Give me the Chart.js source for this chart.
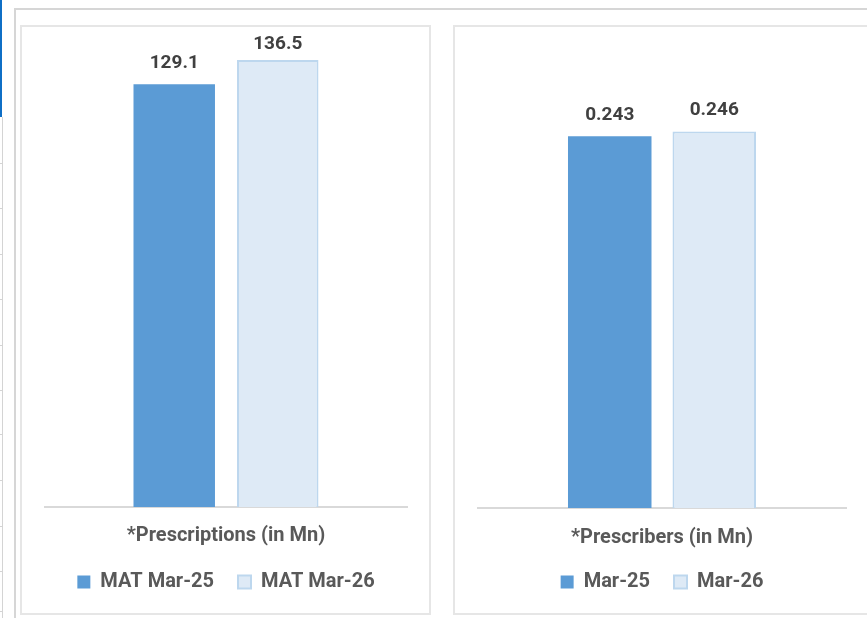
<!DOCTYPE html>
<html><head><meta charset="utf-8">
<script src="https://cdn.jsdelivr.net/npm/chart.js@4.4.0/dist/chart.umd.min.js"></script>
<style>
html,body{margin:0;padding:0;width:867px;height:618px;overflow:hidden;background:#fff;position:relative;}
.blue{position:absolute;left:0;top:0;width:2px;height:117px;background:#0f6fc6;}
.vline{position:absolute;left:2px;top:117px;width:1px;height:501px;background:#d4d4d4;}
.tick{position:absolute;left:0;width:3px;height:1px;background:#d4d4d4;}
.frame{position:absolute;left:14px;top:8px;width:900px;height:700px;border-left:2px solid #d6d6d6;border-top:2px solid #d6d6d6;}
.panel{position:absolute;border:2px solid #e6e6e6;overflow:hidden;background:#fff;}
#p1{left:20px;top:25px;width:407px;height:586px;}
#p2{left:453px;top:25px;width:440px;height:586px;}
canvas{display:block;}
</style></head>
<body>
<div class="blue"></div><div class="vline"></div>
<div id="ticks"></div>
<div class="frame"></div>
<div class="panel" id="p1"><canvas id="c1" width="407" height="586"></canvas></div>
<div class="panel" id="p2"><canvas id="c2" width="420" height="586"></canvas></div>
<script>
// ---- data ----
const leftCategories = ['*Prescriptions (in Mn)'];
const leftSeriesNames = ['MAT Mar-25', 'MAT Mar-26'];
const leftMar25 = [129.1];
const leftMar26 = [136.5];

const rightCategories = ['*Prescribers (in Mn)'];
const rightSeriesNames = ['Mar-25', 'Mar-26'];
const rightMar25 = [0.243];
const rightMar26 = [0.246];

// decorative ticks on far left edge
(function(){
  const t = document.getElementById('ticks');
  [163,208,254,299,345,390,434,480,526,571,611].forEach(y=>{
    const d=document.createElement('div'); d.className='tick'; d.style.top=y+'px'; t.appendChild(d);
  });
})();

const FONT = 'Roboto';
const DARK = '#404040';
const GREY = '#595959';

const valueLabels = {
  id: 'valueLabels',
  afterDatasetsDraw(chart, args, opts) {
    const ctx = chart.ctx;
    ctx.save();
    ctx.font = 'bold 19px ' + FONT;
    ctx.fillStyle = DARK;
    ctx.textAlign = 'center';
    ctx.textBaseline = 'middle';
    chart.data.datasets.forEach((ds, i) => {
      const meta = chart.getDatasetMeta(i);
      meta.data.forEach((bar, j) => {
        const y = Math.max(bar.y - 21, opts.minY);
        ctx.fillText(ds.data[j].toFixed(opts.decimals), bar.x, y);
      });
    });
    ctx.restore();
  }
};

function makeChart(id, cats, names, s1, s2, ymax, decimals, pad, barPct, catPct, axisH, tickPad) {
  return new Chart(document.getElementById(id), {
    type: 'bar',
    data: {
      labels: cats,
      datasets: [
        { label: names[0], data: s1, backgroundColor: '#5b9bd5', borderColor: '#5b9bd5', borderWidth: 0,
          barPercentage: barPct, categoryPercentage: catPct },
        { label: names[1], data: s2, backgroundColor: '#deeaf6', borderColor: '#bdd7ee', borderWidth: 2,
          barPercentage: barPct, categoryPercentage: catPct }
      ]
    },
    options: {
      responsive: false,
      animation: false,
      devicePixelRatio: 1,
      layout: { padding: pad },
      plugins: {
        tooltip: { enabled: false },
        title: { display: false },
        valueLabels: { decimals: decimals, minY: 17 },
        legend: {
          display: true,
          position: 'bottom',
          labels: {
            boxWidth: 13, boxHeight: 13, padding: 24,
            color: GREY,
            font: { family: FONT, size: 20, weight: 'bold' }
          }
        }
      },
      scales: {
        x: {
          grid: { display: false, drawTicks: false },
          border: { display: true, color: '#d9d9d9', width: 2 },
          ticks: { color: GREY, padding: tickPad, font: { family: FONT, size: 20, weight: 'bold' } },
          afterFit(scale) { scale.height = axisH; }
        },
        y: { display: false, min: 0, max: ymax }
      }
    },
    plugins: [valueLabels]
  });
}

makeChart('c1', leftCategories, leftSeriesNames, leftMar25, leftMar26, 140, 1,
  { top: 21.5, left: 23, right: 22, bottom: 11 }, 0.787, 0.572, 41, 17);
makeChart('c2', rightCategories, rightSeriesNames, rightMar25, rightMar26, 0.3, 3,
  { top: 22, left: 23, right: 29, bottom: 11 }, 0.799, 0.568, 40, 18);
</script>
</body></html>
